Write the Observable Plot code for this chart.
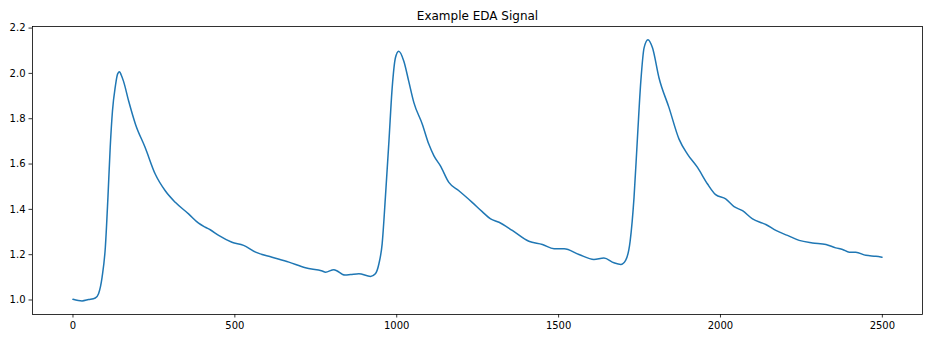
<!DOCTYPE html>
<html>
<head>
<meta charset="utf-8">
<script src="https://cdn.jsdelivr.net/npm/d3@7"></script>
<script src="https://cdn.jsdelivr.net/npm/@observablehq/plot@0.6"></script>
<style>
  html, body { margin: 0; padding: 0; background: #fff; }
  svg { display: block; }
</style>
</head>
<body>
<div id="chart"></div>
<script>
const chartTitle = "Example EDA Signal";
const sampleIndex = [0, 28, 48, 69, 79, 90, 100, 108, 115, 122, 131, 138, 144, 149, 156, 172, 193, 223, 254, 285, 316, 357, 388, 409, 424, 450, 491, 527, 564, 615, 667, 718, 770, 780, 806, 840, 857, 883, 919, 934, 945, 955, 965, 976, 986, 996, 1006, 1022, 1037, 1053, 1079, 1099, 1115, 1135, 1161, 1192, 1233, 1264, 1290, 1316, 1357, 1408, 1450, 1486, 1517, 1563, 1609, 1640, 1671, 1692, 1707, 1721, 1733, 1743, 1754, 1764, 1776, 1790, 1810, 1841, 1872, 1898, 1929, 1960, 1985, 2016, 2042, 2068, 2099, 2130, 2140, 2171, 2207, 2243, 2284, 2326, 2356, 2377, 2398, 2418, 2449, 2480, 2499];
const edaValues = [1.003, 0.996, 1.002, 1.009, 1.028, 1.101, 1.233, 1.453, 1.673, 1.834, 1.944, 1.998, 2.007, 1.993, 1.966, 1.878, 1.776, 1.673, 1.556, 1.482, 1.431, 1.380, 1.339, 1.321, 1.310, 1.285, 1.255, 1.241, 1.211, 1.189, 1.167, 1.142, 1.128, 1.123, 1.134, 1.110, 1.112, 1.116, 1.104, 1.116, 1.160, 1.248, 1.453, 1.702, 1.937, 2.069, 2.098, 2.054, 1.966, 1.871, 1.776, 1.688, 1.636, 1.592, 1.519, 1.482, 1.431, 1.390, 1.358, 1.343, 1.307, 1.259, 1.245, 1.226, 1.226, 1.201, 1.179, 1.185, 1.164, 1.157, 1.175, 1.260, 1.453, 1.702, 1.966, 2.113, 2.149, 2.113, 1.981, 1.849, 1.710, 1.644, 1.585, 1.512, 1.465, 1.446, 1.412, 1.394, 1.358, 1.339, 1.333, 1.307, 1.285, 1.263, 1.252, 1.245, 1.230, 1.223, 1.211, 1.211, 1.197, 1.193, 1.189];
const xTicks = [0, 500, 1000, 1500, 2000, 2500];
const yTicks = [1.0, 1.2, 1.4, 1.6, 1.8, 2.0, 2.2];

const data = sampleIndex.map((x, i) => ({x, y: edaValues[i]}));

const chart = Plot.plot({
  width: 936,
  height: 344,
  marginLeft: 32,
  marginRight: 14,
  marginTop: 26,
  marginBottom: 30,
  style: {fontFamily: "DejaVu Sans", fontSize: "10px", color: "#000", background: "#fff"},
  x: {domain: [-125, 2624], ticks: xTicks, tickFormat: d => String(d), label: null},
  y: {domain: [0.936, 2.207], ticks: yTicks, tickFormat: d3.format(".1f"), label: null},
  marks: [
    Plot.axisX({ticks: xTicks, tickSize: 3.5, tickPadding: 3.5, tickFormat: d => String(d), label: null, stroke: "#000", strokeWidth: 0.8, fill: "#000"}),
    Plot.axisY({ticks: yTicks, tickSize: 3.5, tickPadding: 3.5, tickFormat: d3.format(".1f"), label: null, stroke: "#000", strokeWidth: 0.8, fill: "#000"}),
    Plot.line(data, {x: "x", y: "y", stroke: "#1f77b4", strokeWidth: 1.5, curve: "monotone-x"}),
    Plot.frame({stroke: "#000", strokeWidth: 0.8}),
    Plot.text([chartTitle], {frameAnchor: "top", dy: -7, lineAnchor: "bottom", fontSize: 12, fill: "#000", text: d => d})
  ]
});
document.getElementById("chart").appendChild(chart);
</script>
</body>
</html>
